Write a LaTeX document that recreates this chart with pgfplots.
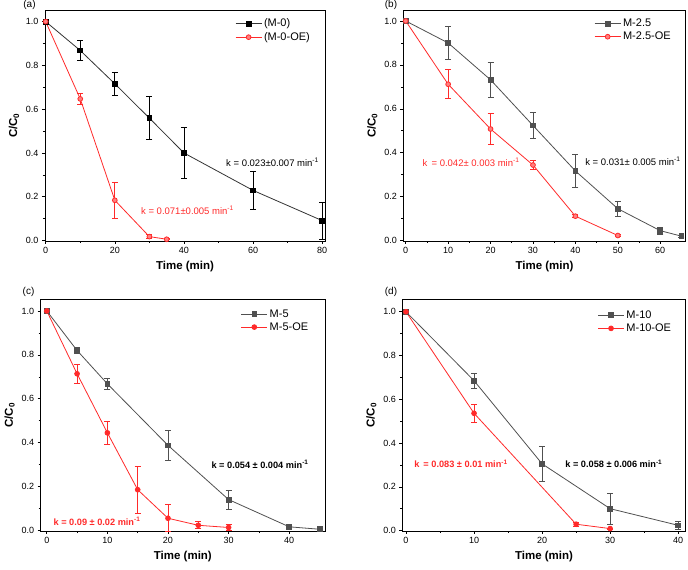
\documentclass[border=0pt]{standalone}
\usepackage{fontspec}
\setmainfont{Liberation Sans}
\usepackage{pgfplots}
\pgfplotsset{compat=1.18}

\definecolor{myred}{HTML}{FF2A2A}
\definecolor{myredfill}{HTML}{FF8080}
\definecolor{mygray}{HTML}{505050}
\definecolor{myblk}{HTML}{333333}

\pgfplotsset{
 panel/.style={
  scale only axis,
  axis line style={line width=0.7pt},
  tick style={line width=0.6pt, black},
  tick align=outside,
  major tick length=3pt, minor tick length=2pt,
  xtick pos=bottom, ytick pos=left,
  minor x tick num=1, minor y tick num=1,
  ytick={0,0.2,0.4,0.6,0.8,1.0},
  yticklabel style={/pgf/number format/.cd, fixed, fixed zerofill, precision=1},
  ticklabel style={font=\fontsize{9}{10}\selectfont},
  /pgf/number format/assume math mode=true,
  xlabel={\textbf{Time (min)}},
  ylabel={\textbf{C/C\textsubscript{0}}},
  label style={font=\fontsize{11.5}{12}\selectfont},
  legend style={draw=none, fill=none, font=\fontsize{11}{12}\selectfont, anchor=north west, row sep=0pt, inner sep=1pt},
  legend cell align=left,
  legend image code/.code={\draw[mark repeat=2,mark phase=2] plot coordinates {(0pt,0pt)(13pt,0pt)(26pt,0pt)};},
  clip=false,
 },
 blk/.style={color=myblk, line width=0.8pt, mark=square*, mark size=2.4pt, mark options={fill=black, draw=black},
   error bars/.cd, y dir=both, y explicit, error bar style={line width=0.8pt, black}, error mark options={rotate=90, mark size=3pt, line width=0.8pt, black}},
 gry/.style={color=mygray, line width=0.8pt, mark=square*, mark size=2.4pt, mark options={fill=mygray, draw=mygray},
   error bars/.cd, y dir=both, y explicit, error bar style={line width=0.8pt, mygray}, error mark options={rotate=90, mark size=3pt, line width=0.8pt, mygray}},
 redo/.style={color=myred, line width=0.8pt, mark=*, mark size=2.4pt, mark options={fill=myredfill, draw=myred},
   error bars/.cd, y dir=both, y explicit, error bar style={line width=0.8pt, myred}, error mark options={rotate=90, mark size=3pt, line width=0.8pt, myred}},
 redf/.style={color=myred, line width=0.8pt, mark=*, mark size=2.4pt, mark options={fill=myred, draw=myred},
   error bars/.cd, y dir=both, y explicit, error bar style={line width=0.8pt, myred}, error mark options={rotate=90, mark size=3pt, line width=0.8pt, myred}},
}

\begin{document}
\begin{tikzpicture}
\path[use as bounding box] (0pt,0pt) rectangle (688pt,570pt);

% (a)
\begin{axis}[panel, at={(45pt,329pt)}, anchor=south west, width=280pt, height=231pt,
  xmin=-0.2, xmax=80.8, ymin=-0.002, ymax=1.053, xtick={0,20,40,60,80},
  legend style={at={(0.675,0.975)}}]
\addplot+[blk] coordinates {(0,1.0)+-(0,0) (10,0.868)+-(0,0.047) (20,0.716)+-(0,0.053) (30,0.559)+-(0,0.099) (40,0.400)+-(0,0.118) (60,0.229)+-(0,0.087) (80,0.091)+-(0,0.085)};
\addlegendentry{(M-0)}
\addplot+[redo] coordinates {(0,1.0)+-(0,0) (10,0.647)+-(0,0.023) (20,0.184)+-(0,0.081) (30,0.018)+-(0,0.009) (35,0.006)+-(0,0.002)};
\addlegendentry{(M-0-OE)}
\node[anchor=west, font=\fontsize{9.5}{10}\selectfont, text=black] at (axis cs:51.2,0.356) {k = 0.023±0.007 min\textsuperscript{-1}};
\node[anchor=west, font=\fontsize{9.5}{10}\selectfont, text=myred] at (axis cs:26.6,0.138) {k = 0.071±0.005 min\textsuperscript{-1}};
\end{axis}

% (b)
\begin{axis}[panel, at={(403.3pt,329pt)}, anchor=south west, width=282.4pt, height=231pt,
  xmin=-0.57, xmax=66, ymin=-0.002, ymax=1.05, xtick={0,10,20,30,40,50,60},
  legend style={at={(0.672,0.975)}}]
\addplot+[gry] coordinates {(0,1.0)+-(0,0) (10,0.90)+-(0,0.076) (20,0.732)+-(0,0.079) (30,0.524)+-(0,0.06) (40,0.317)+-(0,0.077) (50,0.145)+-(0,0.033) (60,0.045)+-(0,0.017) (65,0.02)+-(0,0.005)};
\addlegendentry{M-2.5}
\addplot+[redo] coordinates {(0,1.0)+-(0,0) (10,0.712)+-(0,0.066) (20,0.508)+-(0,0.07) (30,0.344)+-(0,0.02) (40,0.111)+-(0,0.006) (50,0.023)+-(0,0.004)};
\addlegendentry{M-2.5-OE}
\node[anchor=west, font=\fontsize{9.5}{10}\selectfont, text=myred] at (axis cs:3.15,0.356) {k\, = 0.042± 0.003 min\textsuperscript{-1}};
\node[anchor=west, font=\fontsize{9.5}{10}\selectfont, text=black] at (axis cs:41.5,0.36) {k = 0.031± 0.005 min\textsuperscript{-1}};
\end{axis}

% (c)
\begin{axis}[panel, at={(40.7pt,39pt)}, anchor=south west, width=284.3pt, height=231.7pt,
  xmin=-1, xmax=45.9, ymin=-0.002, ymax=1.053, xtick={0,10,20,30,40},
  legend style={at={(0.70,0.97)}}]
\addplot+[gry] coordinates {(0,1.0)+-(0,0) (5,0.82)+-(0,0.012) (10,0.668)+-(0,0.024) (20,0.388)+-(0,0.067) (30,0.141)+-(0,0.044) (40,0.017)+-(0,0.005) (45,0.006)+-(0,0.004)};
\addlegendentry{M-5}
\addplot+[redf] coordinates {(0,1.0)+-(0,0) (5,0.714)+-(0,0.044) (10,0.445)+-(0,0.052) (15,0.186)+-(0,0.106) (20,0.056)+-(0,0.062) (25,0.024)+-(0,0.016) (30,0.014)+-(0,0.014)};
\addlegendentry{M-5-OE}
\node[anchor=west, font=\bfseries\fontsize{9.2}{10}\selectfont, text=black] at (axis cs:26.6,0.30) {k = 0.054 ± 0.004 min\textsuperscript{-1}};
\node[anchor=west, font=\bfseries\fontsize{9.2}{10}\selectfont, text=myred] at (axis cs:0.55,0.041) {k = 0.09 ± 0.02 min\textsuperscript{-1}};
\end{axis}

% (d)
\begin{axis}[panel, at={(402.3pt,39pt)}, anchor=south west, width=283.4pt, height=231.7pt,
  xmin=-0.54, xmax=41.1, ymin=-0.002, ymax=1.057, xtick={0,10,20,30,40},
  legend style={at={(0.685,0.965)}}]
\addplot+[gry] coordinates {(0,1.0)+-(0,0) (10,0.685)+-(0,0.034) (20,0.305)+-(0,0.08) (30,0.10)+-(0,0.07) (40,0.024)+-(0,0.018)};
\addlegendentry{M-10}
\addplot+[redf] coordinates {(0,1.0)+-(0,0) (10,0.536)+-(0,0.042) (25,0.029)+-(0,0.008) (30,0.009)+-(0,0.003)};
\addlegendentry{M-10-OE}
\node[anchor=west, font=\bfseries\fontsize{9.2}{10}\selectfont, text=myred] at (axis cs:0.7,0.305) {k\, = 0.083 ± 0.01 min\textsuperscript{-1}};
\node[anchor=west, font=\bfseries\fontsize{9.2}{10}\selectfont, text=black] at (axis cs:22.9,0.305) {k = 0.058 ± 0.006 min\textsuperscript{-1}};
\end{axis}

\node[font=\fontsize{10}{11}\selectfont] at (29.5pt,565pt) {(a)};
\node[font=\fontsize{10}{11}\selectfont] at (391pt,565pt) {(b)};
\node[font=\fontsize{10}{11}\selectfont] at (28.5pt,278pt) {(c)};
\node[font=\fontsize{10}{11}\selectfont] at (391pt,278pt) {(d)};
\end{tikzpicture}
\end{document}
